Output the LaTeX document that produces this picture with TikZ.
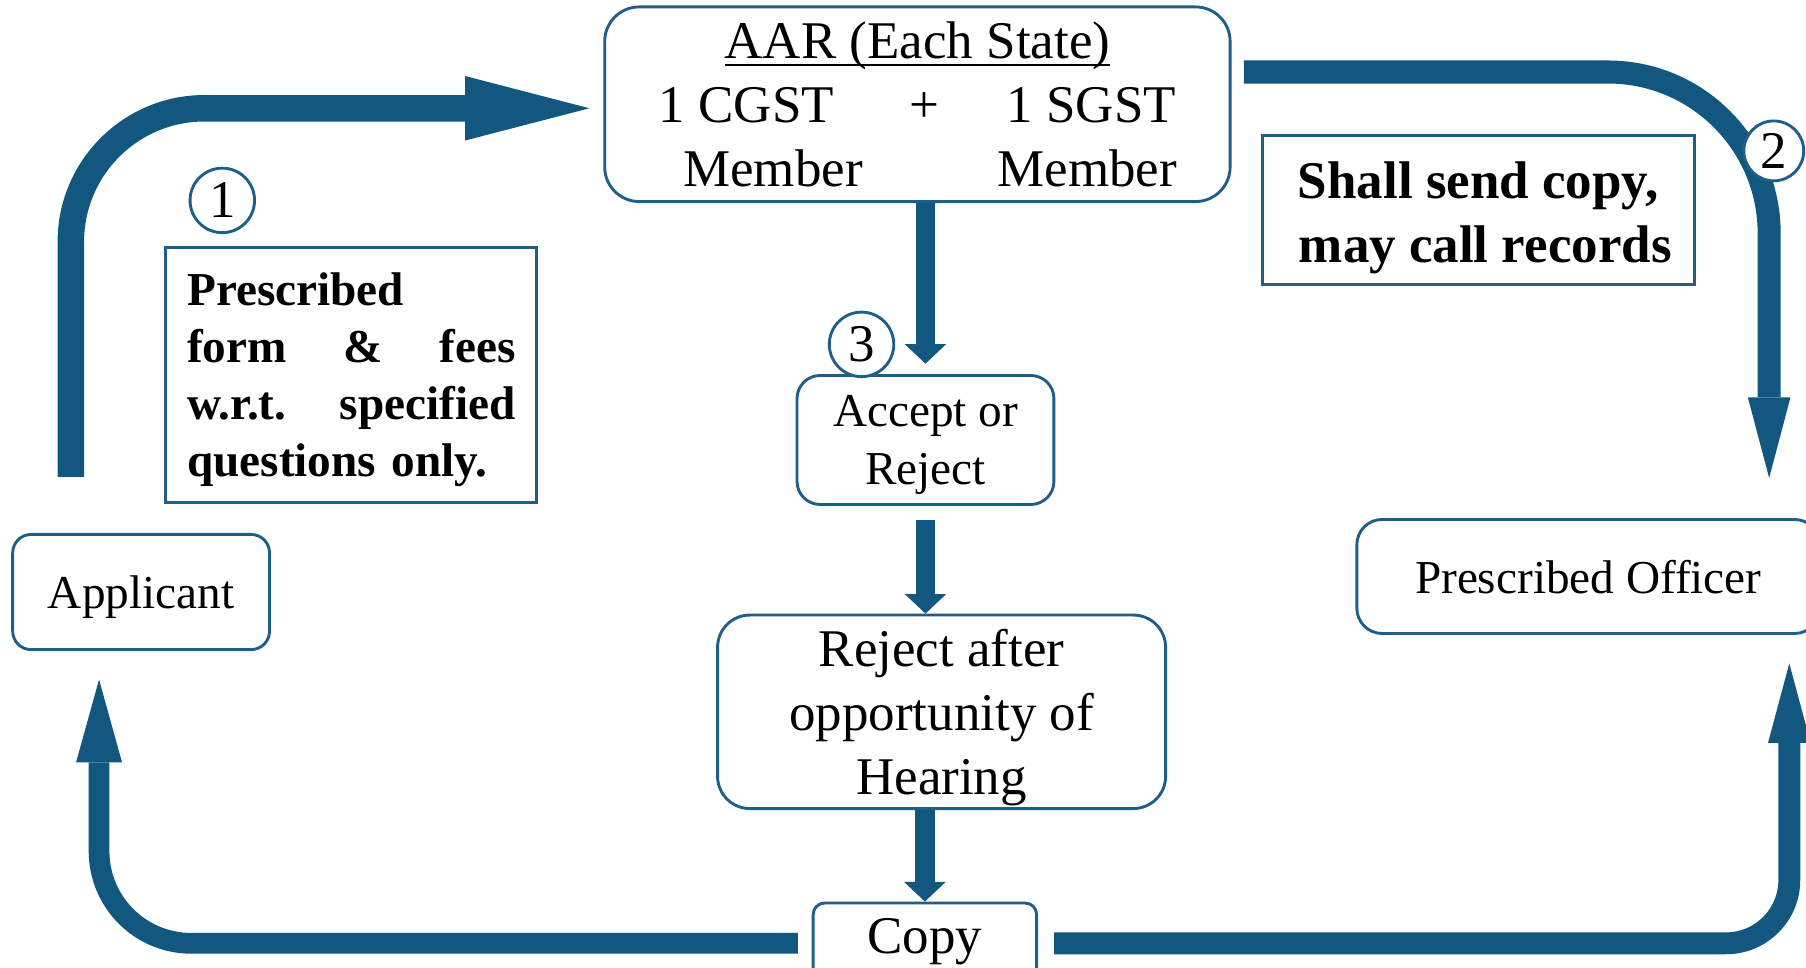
\documentclass[tikz,border=0pt]{standalone}
\usepackage{fontspec}
\setmainfont{Liberation Serif}
\usetikzlibrary{arrows.meta}

\definecolor{flowblue}{RGB}{17,87,128}
\definecolor{edgeblue}{RGB}{30,94,136}

% underline drawn as a rule just under the baseline
\newcommand\headunderline[1]{\setbox0=\hbox{#1}\rlap{\rule[-7pt]{\wd0}{2pt}}\box0}

\begin{document}
\begin{tikzpicture}[x=1pt,y=-1pt,
  bigfont/.style={font=\fontsize{46}{55.5}\selectfont},
  smallfont/.style={font=\fontsize{41}{50}\selectfont},
  box/.style={draw=edgeblue, line width=2.5pt, fill=white, rounded corners=#1,
    inner sep=0pt, align=center},
  box/.default=20pt,
  notebox/.style={draw=edgeblue, line width=2.5pt, fill=white, inner sep=0pt},
  numcirc/.style={circle, draw=edgeblue, line width=2.5pt, fill=white,
    inner sep=0pt, font=\fontsize{46}{55}\selectfont},
  bigflow/.style={draw=flowblue, line cap=butt},
  smallflow/.style={draw=flowblue, line width=17pt,
    -{Triangle[length=17pt,width=36pt,line width=0pt]}}
]
\useasboundingbox (0,0) rectangle (1568,840);
\clip (0,0) rectangle (1568,840);

% ---- boxes ----
\node[box=30pt, bigfont, minimum width=543pt, minimum height=169pt] (aar) at (796.5,90.5)
  {\headunderline{AAR (Each State)}\\
   1 CGST\hspace{66pt}+\hspace{58pt}1 SGST\\
   \hspace*{22pt}Member\hspace{117pt}Member};

\node[box=20pt, smallfont, minimum width=223pt, minimum height=112pt] (accept) at (803.5,382)
  {\rule{0pt}{36pt}Accept or\\Reject};

\node[box=28pt, bigfont, minimum width=389pt, minimum height=168pt] (reject) at (817.5,618)
  {\rule{0pt}{43pt}Reject after\\opportunity of\\Hearing};

\node[box=10pt, bigfont, minimum width=194pt, minimum height=68pt] (copy) at (803,818) {Copy};

\node[box=16pt, smallfont, minimum width=223pt, minimum height=100pt, text depth=0pt]
  (applicant) at (122.5,514) {Applicant};

\node[box=22pt, smallfont, minimum width=402pt, minimum height=99pt, text depth=0pt]
  (officer) at (1379,500.5) {Prescribed Officer};

\node[notebox, minimum width=322pt, minimum height=221pt, text width=285pt, align=left,
  font=\fontsize{41}{49.7}\selectfont\bfseries] (note1) at (305,325.5)
  {\rule{0pt}{37pt}Prescribed\\
   \makebox[285pt][s]{form\hfill\&\hfill fees}\\
   \makebox[285pt][s]{w.r.t.\hfill specified}\\
   questions only.};

\node[notebox, minimum width=375pt, minimum height=129pt, align=center,
  font=\fontsize{46}{55.5}\selectfont\bfseries] (note2) at (1283.5,182.5)
  {\rule{0pt}{44.5pt}Shall send copy,\\\hspace*{12pt}may call records};

% ---- free ends of the curved arrows ----
\coordinate (a1s) at (61.5,414);
\coordinate (a2s) at (1080,62.5);
\coordinate (a2e) at (1536,415);
\coordinate (a3e) at (86,590);
\coordinate (a4e) at (1553.5,576);

% ---- curved arrows ----
\draw[bigflow, line width=23pt, rounded corners=116pt,
  -{Triangle[length=108pt,width=56pt,line width=0pt]}]
  (a1s) |- ([xshift=-12pt,yshift=-3.5pt]aar.west);
\draw[bigflow, line width=20pt, rounded corners=140pt,
  -{Triangle[length=70pt,width=37pt,line width=0pt]}]
  (a2s) -| (a2e);
\draw[bigflow, line width=18pt, rounded corners=80pt,
  -{Triangle[length=72pt,width=40pt,line width=0pt]}]
  ([xshift=-12pt,yshift=-1pt]copy.west) -| (a3e);
\draw[bigflow, line width=19pt, rounded corners=55pt,
  -{Triangle[length=69pt,width=37pt,line width=0pt]}]
  ([xshift=14pt,yshift=-1pt]copy.east) -| (a4e);

% ---- straight arrows down the middle ----
\draw[smallflow, shorten >=9pt] (aar.south -| accept.north) -- (accept.north);
\draw[smallflow, shorten <=12pt] (accept.south) -- (reject.north -| accept.south);
\draw[smallflow] (reject.south -| copy.north) -- (copy.north);

% ---- step numbers ----
\node[numcirc, minimum size=56pt] (n1) at (193,174) {1};
\node[numcirc, minimum size=52pt] (n2) at (1540,131) {2};
\node[numcirc, minimum size=56pt] (n3) at (748,299) {3};
\end{tikzpicture}
\end{document}
